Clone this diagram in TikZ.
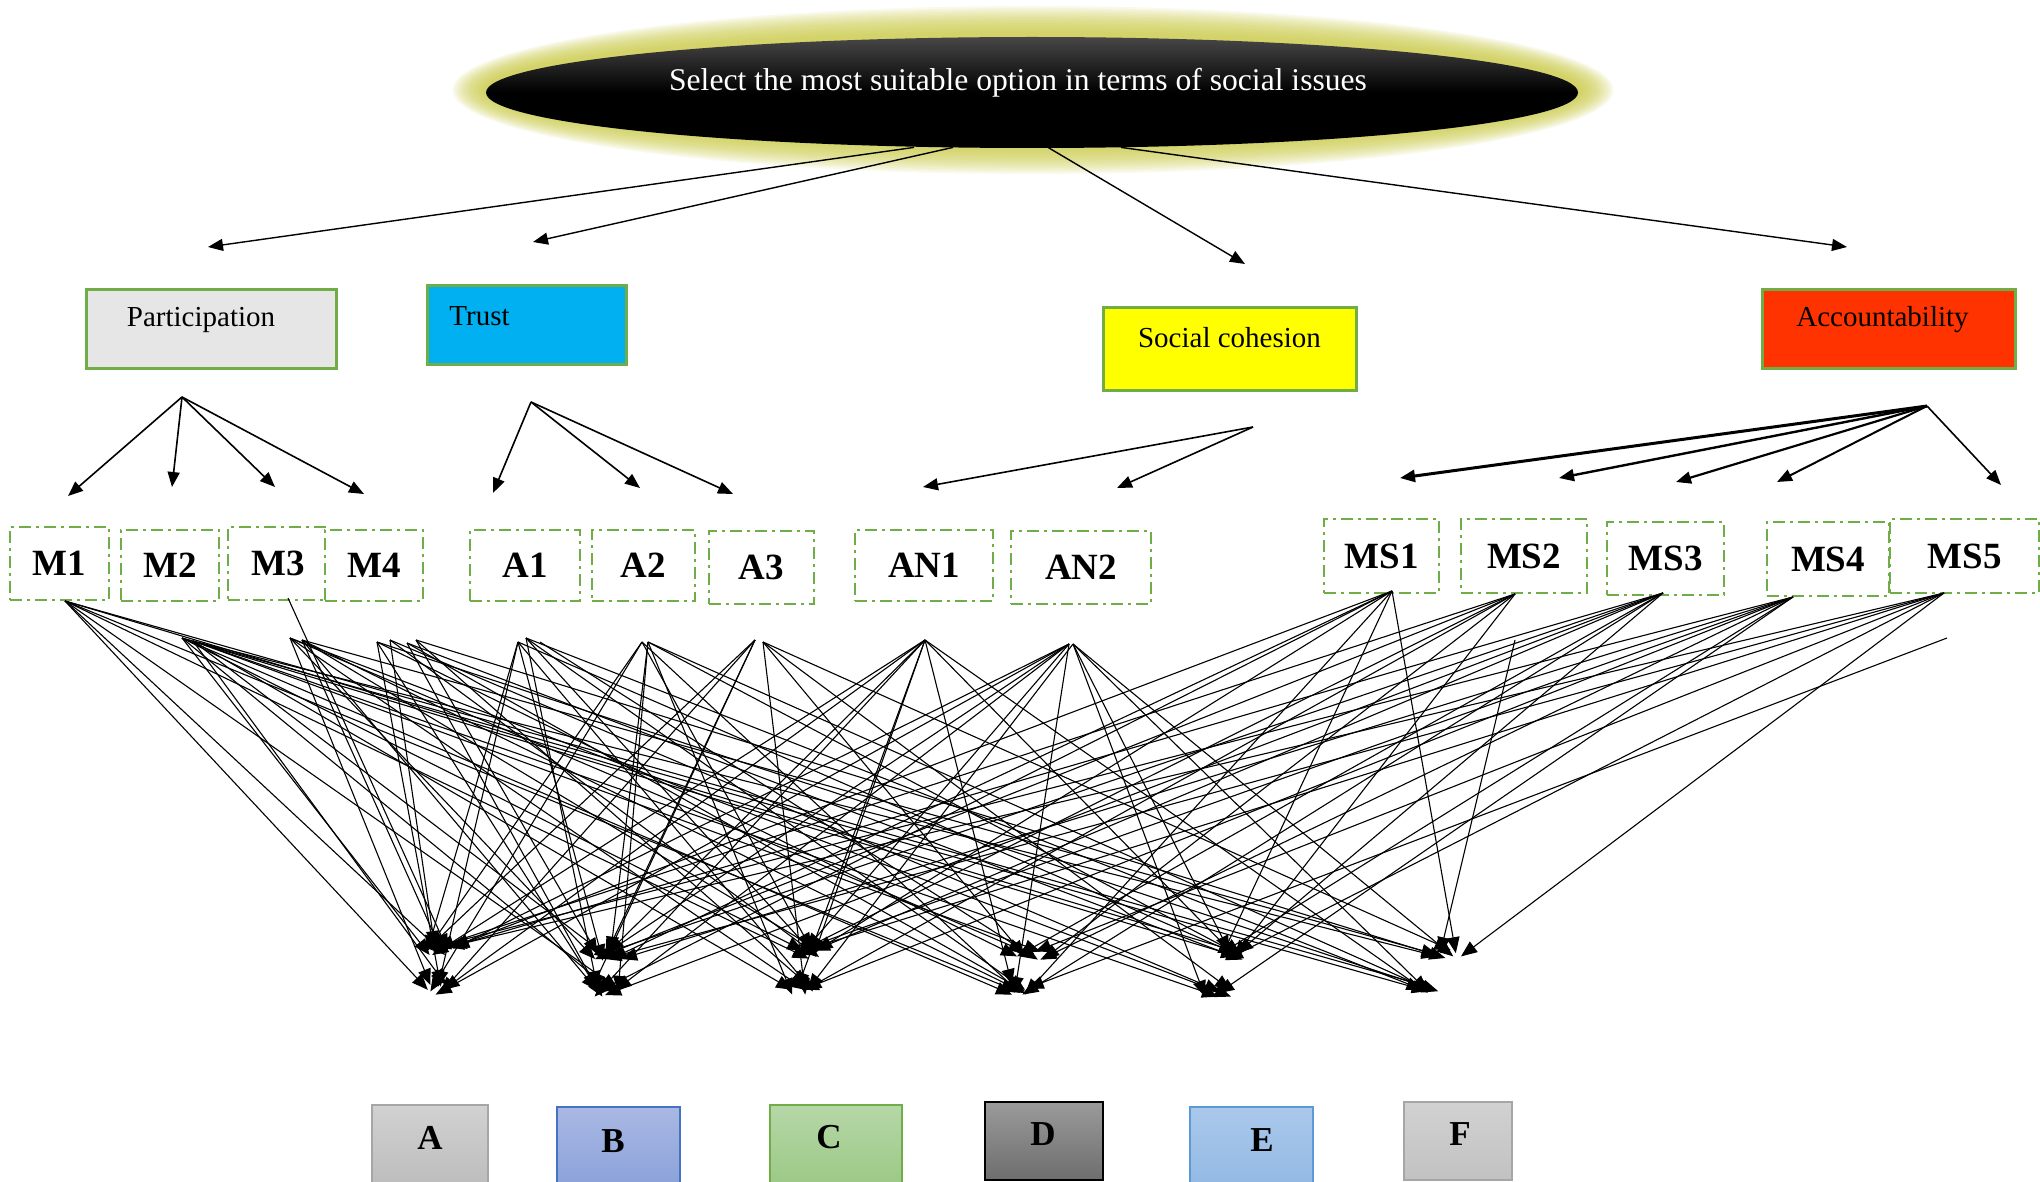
\documentclass[tikz,border=0pt]{standalone}
\usepackage{fontspec}
\setmainfont{Liberation Serif}
\usetikzlibrary{arrows.meta,calc,shapes.geometric}
\definecolor{gborder}{HTML}{70AD47}
\definecolor{glowc}{HTML}{C8C845}
\definecolor{partfill}{HTML}{E6E6E6}
\definecolor{trustfill}{HTML}{00B0F0}
\definecolor{socfill}{HTML}{FFFF00}
\definecolor{accfill}{HTML}{FF3300}
\tikzset{
  catbox/.style={draw=gborder, line width=1.5pt, inner sep=0pt},
  cattext/.style={inner sep=0pt, font=\fontsize{14.5}{17}\selectfont},
  leaf/.style={draw=gborder, line width=1.2pt, dash pattern=on 6pt off 2.5pt on 1.5pt off 2.5pt, fill=white, inner sep=0pt, font=\fontsize{18.5}{21}\selectfont\bfseries},
  fanarrow/.style={line width=0.8pt, -{Triangle[length=7.5pt,width=6pt]}},
  tangle/.style={line width=0.55pt, -{Triangle[length=8pt,width=6.5pt]}},
  altbox/.style={line width=0.8pt, inner sep=0pt},
  alttext/.style={inner sep=0pt, font=\fontsize{17.5}{20}\selectfont\bfseries}
}
\begin{document}
\begin{tikzpicture}[x=0.5pt,y=-0.5pt]
\useasboundingbox (0,0) rectangle (2040,1182);
\clip (0,0) rectangle (2040,1182);
% glow
\foreach \k in {15,14,...,1}{
  \node[ellipse, fill=glowc, fill opacity=0.1, draw=none, minimum width=546pt+2*\k*1.15pt, minimum height=55.5pt+2*\k*0.95pt] (glow\k) at (1033,90) {};
}
\node[ellipse, draw=none, top color=black!72, bottom color=black, middle color=black, minimum width=546pt, minimum height=55.5pt] (title) at (1032,92.5) {};
\node[text=white, inner sep=0pt, font=\fontsize{15.8}{19}\selectfont] (titletext) at (1018,83) {Select the most suitable option in terms of social issues};

% category boxes
\node[catbox, fill=partfill, minimum width=125pt, minimum height=39pt] (part) at (211,329) {};
\node[cattext] (partT) at (201,320) {Participation};
\node[catbox, fill=trustfill, minimum width=99.5pt, minimum height=39pt] (trust) at (526.5,325) {};
\node[cattext] (trustT) at (479.5,316) {Trust};
\node[catbox, fill=socfill, minimum width=126.5pt, minimum height=41pt] (soc) at (1229.5,349) {};
\node[cattext] (socT) at (1229.5,338) {Social cohesion};
\node[catbox, fill=accfill, minimum width=126.5pt, minimum height=39pt] (acc) at (1888.5,329) {};
\node[cattext] (accT) at (1882.5,320) {Accountability};

% arrows from title
\coordinate (e1) at ($(title.south)+(-118,-1)$);
\coordinate (e2) at ($(title.south)+(-79,-1)$);
\coordinate (e3) at ($(title.south)+(16,-1)$);
\coordinate (e4) at ($(title.south)+(89,-1)$);
\coordinate (c1) at (208,247);
\coordinate (c2) at (533,242);
\coordinate (c3) at (1245,264);
\coordinate (c4) at (1847,247);
\draw[fanarrow, line width=0.7pt] (e1) -- (c1);
\draw[fanarrow, line width=0.7pt] (e2) -- (c2);
\draw[fanarrow, line width=0.7pt] (e3) -- (c3);
\draw[fanarrow, line width=0.7pt] (e4) -- (c4);

% leaf boxes
\node[leaf, minimum width=49.5pt, minimum height=36.5pt] (M1) at (59.5,563.5) {M1};
\node[leaf, minimum width=49pt, minimum height=35.5pt] (M2) at (170,565.5) {M2};
\node[leaf, minimum width=50pt, minimum height=36.5pt] (M3) at (278,563.5) {M3};
\node[leaf, minimum width=49pt, minimum height=35.5pt] (M4) at (374,565.5) {M4};
\node[leaf, minimum width=55pt, minimum height=35.5pt] (A1) at (525,565.5) {A1};
\node[leaf, minimum width=51.5pt, minimum height=35.5pt] (A2) at (643.5,565.5) {A2};
\node[leaf, minimum width=52.5pt, minimum height=36.5pt] (A3) at (761.5,567.5) {A3};
\node[leaf, minimum width=69pt, minimum height=35.5pt] (AN1) at (924,565.5) {AN1};
\node[leaf, minimum width=70pt, minimum height=36.5pt] (AN2) at (1081,567.5) {AN2};
\node[leaf, minimum width=57.5pt, minimum height=37pt] (MS1) at (1381.5,556) {MS1};
\node[leaf, minimum width=63pt, minimum height=37pt] (MS2) at (1524,556) {MS2};
\node[leaf, minimum width=58.5pt, minimum height=36.5pt] (MS3) at (1665.5,558.5) {MS3};
\node[leaf, minimum width=61pt, minimum height=37pt] (MS4) at (1828,559) {MS4};
\node[leaf, minimum width=74.5pt, minimum height=37pt] (MS5) at (1964.5,556) {MS5};

% second-level fans
\coordinate (pO) at (182,397);
\coordinate (pt1) at (68,496);
\coordinate (pt2) at (172,487);
\coordinate (pt3) at (275,487);
\coordinate (pt4) at (364,494);
\foreach \t in {pt1,pt2,pt3,pt4} \draw[fanarrow] (pO) -- (\t);
\coordinate (tO) at (531,402);
\coordinate (tt1) at (493,493);
\coordinate (tt2) at (640,488);
\coordinate (tt3) at (733,494);
\foreach \t in {tt1,tt2,tt3} \draw[fanarrow] (tO) -- (\t);
\coordinate (sO) at (1253,427);
\coordinate (st1) at (923,487);
\coordinate (st2) at (1117,488);
\foreach \t in {st1,st2} \draw[fanarrow] (sO) -- (\t);
\coordinate (aO) at (1927,406);
\coordinate (at1) at (1400,478);
\coordinate (at2) at (1559,478);
\coordinate (at3) at (1676,482);
\coordinate (at4) at (1777,482);
\coordinate (at5) at (2001,485);
\draw[fanarrow, line width=1.5pt] (aO) -- (at1);
\draw[fanarrow, line width=1.2pt] (aO) -- (at2);
\draw[fanarrow, line width=1.1pt] (aO) -- (at3);
\draw[fanarrow, line width=1pt] (aO) -- (at4);
\draw[fanarrow] (aO) -- (at5);

% targets
\coordinate (U1) at (440,952);
\coordinate (U2) at (608,956);
\coordinate (U3) at (806,954);
\coordinate (U4) at (1030,955);
\coordinate (U5) at (1232,955);
\coordinate (U6) at (1448,955);
\coordinate (L1) at (433,990);
\coordinate (L2) at (605,992);
\coordinate (L3) at (800,990);
\coordinate (L4) at (1025,990);
\coordinate (L5) at (1218,992);
\coordinate (L6) at (1433,993);

% sources
\coordinate (s1) at (65,601);
\coordinate (s2) at (182,638);
\coordinate (s3) at (193,641);
\coordinate (s4) at (288,598);
\coordinate (s5) at (290,638);
\coordinate (s6) at (302,640);
\coordinate (s7) at (377,642);
\coordinate (s8) at (390,640);
\coordinate (s9) at (407,643);
\coordinate (s10) at (416,640);
\coordinate (s11) at (518,642);
\coordinate (s12) at (526,638);
\coordinate (s13) at (540,642);
\coordinate (s14) at (642,642);
\coordinate (s15) at (648,642);
\coordinate (s16) at (755,640);
\coordinate (s17) at (763,642);
\coordinate (s18) at (925,640);
\coordinate (s19) at (1069,644);
\coordinate (s20) at (1073,644);
\coordinate (r1) at (1392,591);
\coordinate (r2) at (1515,594);
\coordinate (r2f) at (1515,640);
\coordinate (r3) at (1663,593);
\coordinate (r4) at (1793,597);
\coordinate (r5) at (1944,593);
\coordinate (r5f) at (1947,638);

\foreach \s/\t [count=\i] in {
 s1/U1,s1/L1,s1/L2,s1/U3,s1/L4,s1/U5,s1/L6,
 s2/U1,s2/L2,s2/U3,s2/L4,s2/U5,s2/L6,
 s3/L1,s3/U2,s3/L3,s3/U4,s3/L5,s3/U6,
 s4/U1,
 s5/L1,s5/U2,s5/L3,s5/U4,s5/L5,
 s6/U1,s6/L2,s6/U3,s6/L4,s6/U6,
 s7/L1,s7/L2,s7/U4,s7/L6,
 s8/U1,s8/U3,s8/L5,
 s9/L2,s9/U5,s9/L4,
 s10/U2,s10/L3,s10/U6,
 s11/U1,s11/L1,s11/U2,s11/L3,s11/U5,
 s12/L2,s12/U3,s12/L4,s12/L6,
 s13/U4,
 s14/L1,s14/U1,s14/U3,s14/L4,
 s15/L2,s15/U2,s15/L3,s15/U5,s15/L6,
 s16/U1,s16/L1,s16/U2,s16/L2,
 s17/L3,s17/U4,s17/L5,s17/U6,
 s18/U1,s18/L1,s18/U2,s18/L2,s18/U3,s18/L3,s18/L4,s18/U5,s18/L6,
 s19/U1,s19/L1,s19/U2,s19/L2,s19/U3,s19/L4,
 s20/L3,s20/U5,s20/L5,s20/U6,s20/L6,
 r1/U1,r1/U2,r1/L2,r1/U3,r1/L4,r1/U5,r1/U6,
 r2/U1,r2/U2,r2/L3,r2/U3,r2/U4,r2/U5,
 r2f/U6,
 r3/U1,r3/L2,r3/U2,r3/U3,r3/L4,r3/U4,r3/U5,
 r4/U1,r4/U2,r4/L3,r4/U3,r4/U4,r4/L5,r4/U5,
 r5/U1,r5/U2,r5/U3,r5/U4,r5/U5,r5/U6,
 r5f/L4}{
  \pgfmathsetmacro\jx{mod(\i*7,11)*2.6-13}
  \pgfmathsetmacro\jy{mod(\i*5,7)*1.6-5}
  \draw[tangle] (\s) -- ($(\t)+(\jx,\jy)$);
}

% alternatives
\node[altbox, draw=black!35, top color=black!18, bottom color=black!26, minimum width=58pt, minimum height=40.5pt] (bA) at (430,1145.5) {};
\node[alttext] (tA) at (430,1138) {A};
\node[altbox, draw={rgb,255:red,68;green,114;blue,196}, top color={rgb,255:red,169;green,184;blue,227}, bottom color={rgb,255:red,139;green,162;blue,217}, minimum width=61.5pt, minimum height=39.5pt] (bB) at (618.5,1146.5) {};
\node[alttext] (tB) at (613,1141) {B};
\node[altbox, draw=gborder, top color={rgb,255:red,182;green,215;blue,168}, bottom color={rgb,255:red,155;green,201;blue,133}, minimum width=66pt, minimum height=40.5pt] (bC) at (836,1145.5) {};
\node[alttext] (tC) at (829,1137) {C};
\node[altbox, draw=black, line width=1.2pt, top color={rgb,255:red,154;green,154;blue,154}, bottom color={rgb,255:red,110;green,110;blue,110}, minimum width=59pt, minimum height=39pt] (bD) at (1044,1141) {};
\node[alttext] (tD) at (1043,1134) {D};
\node[altbox, draw={rgb,255:red,91;green,155;blue,213}, top color={rgb,255:red,170;green,200;blue,235}, bottom color={rgb,255:red,147;green,185;blue,228}, minimum width=61.5pt, minimum height=39.5pt] (bE) at (1251.5,1146.5) {};
\node[alttext] (tE) at (1262,1140) {E};
\node[altbox, draw=black!35, top color=black!18, bottom color=black!24, minimum width=54pt, minimum height=39pt] (bF) at (1458,1141) {};
\node[alttext] (tF) at (1460,1134) {F};
\end{tikzpicture}
\end{document}
